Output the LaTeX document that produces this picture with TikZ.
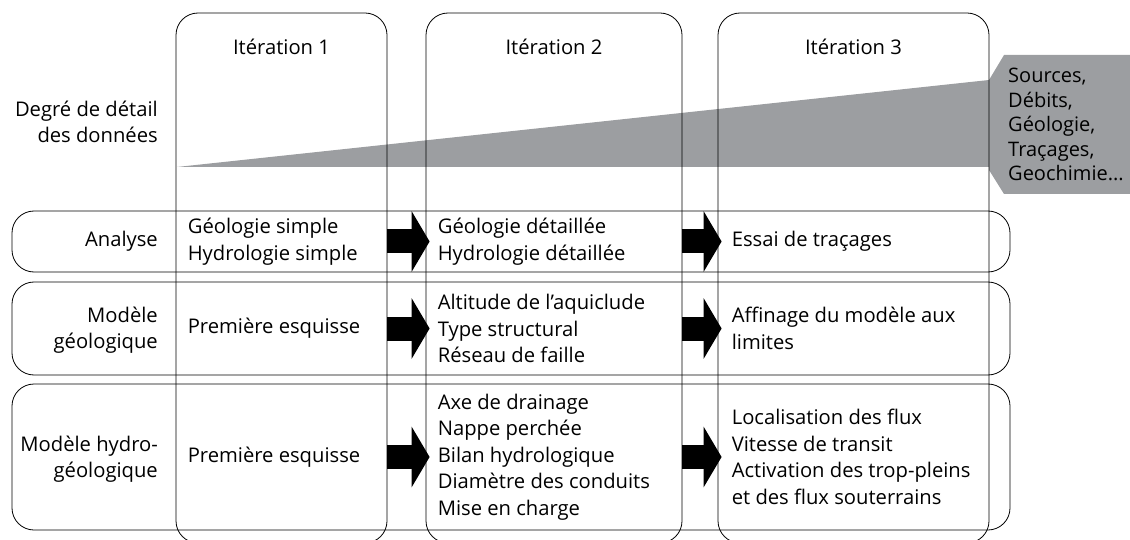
\documentclass[tikz,border=0pt]{standalone}
\usepackage{fontspec}
\setmainfont{Open Sans}
\usetikzlibrary{positioning,arrows.meta}
\definecolor{wedgegray}{RGB}{156,158,161}
\tikzset{
  colbox/.style={draw,line width=0.8pt,rounded corners=22pt,inner sep=0pt,minimum height=530pt},
  rowbox/.style={draw,line width=0.8pt,rounded corners=22pt,inner sep=0pt,minimum width=998pt},
  txt/.style={inner sep=0pt,align=left,font=\fontsize{20.2}{26.5}\selectfont},
  lab/.style={txt,align=right,anchor=east},
  cell/.style={txt,anchor=west},
  blockarrow/.style={line width=24pt,-{Triangle[length=18pt,width=60pt]}}
}
\begin{document}
\begin{tikzpicture}[line cap=butt,line join=round,x=1pt,y=-1pt]
\useasboundingbox (0,0) rectangle (1130,540);
% gray wedge and data box
\fill[wedgegray] (177,167) -- (989,80) -- (1004,55) -- (1130,55) -- (1130,194)
  -- (1004,194) -- (989,170) -- (989,167) -- cycle;
\node[txt,anchor=west,font=\fontsize{20}{24.5}\selectfont] (data) at (1008,124.5) {Sources,\\D\'ebits,\\G\'eologie,\\Tra\c{c}ages,\\Geochimie...};
% iterations
\node[colbox,minimum width=211pt] (it1) at (281.5,278) {};
\node[colbox,minimum width=256pt] (it2) at (554,278) {};
\node[colbox,minimum width=271pt] (it3) at (853.5,278) {};
\foreach \c/\t in {it1/1,it2/2,it3/3}
  \node[txt] (t\c) at (\c.north |- 0,47) {It\'eration \t};
% rows
\node[rowbox,minimum height=61pt] (analyse) at (511,241.5) {};
\node[rowbox,minimum height=93pt] (geol) at (511,328.5) {};
\node[rowbox,minimum height=146pt] (hydro) at (511,457) {};
% row labels
\node[lab] (ldeg) at (158,122) {Degr\'e de d\'etail\\des donn\'ees};
\node[lab] (lana) at (158,241.5) {Analyse};
\node[lab] (lgeo) at (158,330) {Mod\`ele\\g\'eologique};
\node[lab] (lhyd) at (158,459) {Mod\`ele hydro-\\g\'eologique};
% cells
\node[cell] (a1) at ([xshift=12pt]it1.west |- analyse) {G\'eologie simple\\Hydrologie simple};
\node[cell] (a2) at ([xshift=12pt]it2.west |- analyse) {G\'eologie d\'etaill\'ee\\Hydrologie d\'etaill\'ee};
\node[cell] (a3) at ([xshift=14pt]it3.west |- analyse) {Essai de tra\c{c}ages};
\node[cell] (g1) at ([xshift=12pt]it1.west |- geol) {Premi\`ere esquisse};
\node[cell] (g2) at ([xshift=12pt]it2.west |- geol) {Altitude de l'aquiclude\\Type structural\\R\'eseau de faille};
\node[cell] (g3) at ([xshift=14pt]it3.west |- geol) {Affinage du mod\`ele aux\\limites};
\node[cell] (h1) at ([xshift=12pt]it1.west |- hydro) {Premi\`ere esquisse};
\node[cell] (h2) at ([xshift=12pt]it2.west |- hydro) {Axe de drainage\\Nappe perch\'ee\\Bilan hydrologique\\Diam\`etre des conduits\\Mise en charge};
\node[cell] (h3) at ([xshift=14pt]it3.west |- hydro) {Localisation des flux\\Vitesse de transit\\Activation des trop-pleins\\et des flux souterrains};
% arrows between iterations
\foreach \r in {analyse,geol,hydro}{
  \draw[blockarrow] (it1.east |- \r) -- ([xshift=4pt]it2.west |- \r);
  \draw[blockarrow] (it2.east |- \r) -- ([xshift=4pt]it3.west |- \r);
}
\end{tikzpicture}
\end{document}
